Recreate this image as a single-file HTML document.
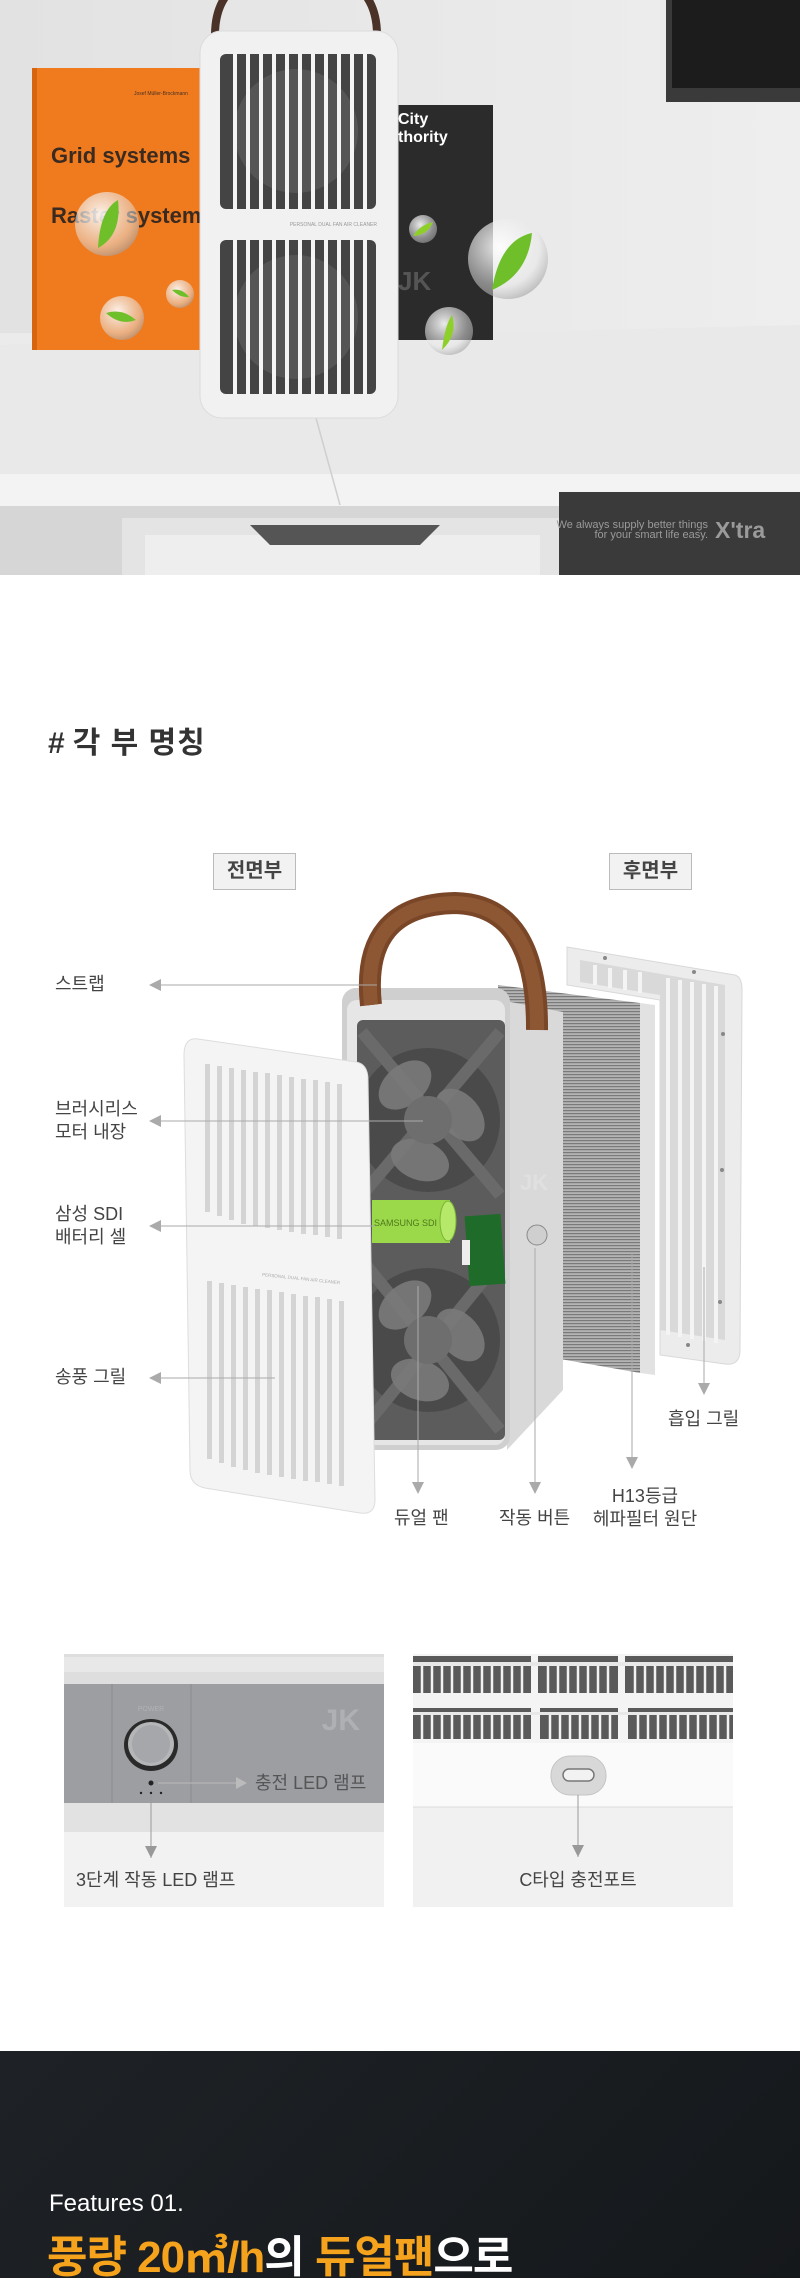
<!DOCTYPE html>
<html><head><meta charset="utf-8">
<style>
*{margin:0;padding:0;box-sizing:border-box}
body{width:800px;height:2278px;position:relative;background:#fff;overflow:hidden;font-family:"Liberation Sans","Noto Sans CJK KR",sans-serif}
.a{position:absolute;white-space:nowrap}
.lb{font-size:18px;color:#444;line-height:23px}
</style></head><body>

<!-- HERO -->
<svg class="a" style="left:0;top:0" width="800" height="575" viewBox="0 0 800 575">
<defs>
<linearGradient id="wall" x1="0" y1="0" x2="1" y2="0"><stop offset="0" stop-color="#e2e2e2"/><stop offset="1" stop-color="#eeeeee"/></linearGradient>
<radialGradient id="bub" cx="0.4" cy="0.35" r="0.7"><stop offset="0" stop-color="#ffffff" stop-opacity="0.9"/><stop offset="0.7" stop-color="#e8e8e8" stop-opacity="0.5"/><stop offset="1" stop-color="#999" stop-opacity="0.6"/></radialGradient>
</defs>
<rect width="800" height="575" fill="url(#wall)"/>
<rect x="0" y="333" width="800" height="145" fill="#ebebeb"/>
<polygon points="0,345 800,325 800,478 0,478" fill="#e9e9e9"/>
<rect x="0" y="474" width="800" height="34" fill="#f3f3f3"/>
<line x1="316" y1="418" x2="340" y2="505" stroke="#cfcfcf" stroke-width="1.5"/>
<rect x="0" y="506" width="800" height="69" fill="#d6d6d6"/>
<rect x="122" y="518" width="437" height="57" fill="#e4e4e4"/>
<rect x="145" y="535" width="395" height="40" fill="#eeeeee"/>
<path d="M250 525 L440 525 L420 545 L270 545 Z" fill="#555"/>
<rect x="559" y="492" width="241" height="83" fill="#3a3a3a"/>
<text x="708" y="528" text-anchor="end" font-size="11" fill="#9a9a9a" font-family="Liberation Sans Narrow, Liberation Sans, sans-serif">We always supply better things</text>
<text x="708" y="538" text-anchor="end" font-size="11" fill="#9a9a9a" font-family="Liberation Sans Narrow, Liberation Sans, sans-serif">for your smart life easy.</text>
<text x="715" y="538" font-size="23" font-weight="bold" fill="#9a9a9a">X'tra</text>
<!-- monitor -->
<rect x="666" y="0" width="134" height="102" fill="#3a3a3a"/>
<rect x="672" y="0" width="128" height="88" fill="#1c1c1c"/>
<!-- orange book -->
<rect x="32" y="68" width="180" height="282" fill="#f07b1f"/>
<rect x="32" y="68" width="5" height="282" fill="#d76510"/>
<text x="51" y="163" font-size="22" font-weight="bold" fill="#3a2a20">Grid systems</text>
<text x="51" y="223" font-size="22" font-weight="bold" fill="#3a2a20">Raster systems</text>
<text x="134" y="95" font-size="5" fill="#4a3020">Josef Müller-Brockmann</text>
<!-- dark book -->
<rect x="390" y="105" width="103" height="235" fill="#2b2b2b"/>
<text x="398" y="124" font-size="16" font-weight="bold" fill="#fff">City</text>
<text x="398" y="142" font-size="16" font-weight="bold" fill="#fff">thority</text>
<text x="398" y="290" font-size="26" font-weight="bold" fill="#555">JK</text>
<!-- device -->
<path d="M215 35 Q215 -30 296 -30 Q377 -30 377 35" fill="none" stroke="#4a3228" stroke-width="8"/>
<rect x="200" y="31" width="198" height="387" rx="22" fill="#f1f1f1" stroke="#dcdcdc"/>
<rect x="220" y="54" width="156" height="155" rx="6" fill="#444"/>
<rect x="220" y="240" width="156" height="154" rx="6" fill="#444"/>
<circle cx="296" cy="131" r="62" fill="#555"/><circle cx="296" cy="317" r="62" fill="#555"/>
<g fill="#f4f4f4">
<rect x="233" y="54" width="4" height="155"/><rect x="246" y="54" width="4" height="155"/><rect x="259" y="54" width="4" height="155"/><rect x="272" y="54" width="4" height="155"/><rect x="285" y="54" width="4" height="155"/><rect x="298" y="54" width="4" height="155"/><rect x="311" y="54" width="4" height="155"/><rect x="324" y="54" width="4" height="155"/><rect x="337" y="54" width="4" height="155"/><rect x="350" y="54" width="4" height="155"/><rect x="363" y="54" width="4" height="155"/>
<rect x="233" y="240" width="4" height="154"/><rect x="246" y="240" width="4" height="154"/><rect x="259" y="240" width="4" height="154"/><rect x="272" y="240" width="4" height="154"/><rect x="285" y="240" width="4" height="154"/><rect x="298" y="240" width="4" height="154"/><rect x="311" y="240" width="4" height="154"/><rect x="324" y="240" width="4" height="154"/><rect x="337" y="240" width="4" height="154"/><rect x="350" y="240" width="4" height="154"/><rect x="363" y="240" width="4" height="154"/>
</g>
<text x="377" y="226" text-anchor="end" font-size="5" fill="#999">PERSONAL DUAL FAN AIR CLEANER</text>
<!-- bubbles -->
<g>
<circle cx="508" cy="259" r="40" fill="url(#bub)"/><path d="M492 290 Q500 240 532 233 Q528 275 492 290Z" fill="#6fbf2a"/>
<circle cx="449" cy="331" r="24" fill="url(#bub)"/><path d="M442 350 Q445 325 452 315 Q458 335 442 350Z" fill="#8fcf2a"/>
<circle cx="423" cy="229" r="14" fill="url(#bub)"/><path d="M413 236 Q420 225 433 222 Q428 235 413 236Z" fill="#8fcf2a"/>
<circle cx="107" cy="224" r="32" fill="url(#bub)"/><path d="M98 248 Q100 210 118 200 Q122 235 98 248Z" fill="#6fbf2a"/>
<circle cx="122" cy="318" r="22" fill="url(#bub)"/><path d="M106 313 Q122 308 136 320 Q120 326 106 313Z" fill="#6fbf2a"/>
<circle cx="180" cy="294" r="14" fill="url(#bub)"/><path d="M172 290 Q182 288 189 297 Q180 298 172 290Z" fill="#6fbf2a"/>
</g>
</svg>

<!-- TITLE -->
<div class="a" style="left:48px;top:718px;font-size:30px;font-weight:bold;color:#333;letter-spacing:1px">#&thinsp;각 부 명칭</div>
<div class="a" style="left:213px;top:853px;width:83px;height:37px;background:#f2f2f2;border:1px solid #bbb;font-size:20px;font-weight:bold;color:#444;text-align:center;line-height:35px">전면부</div>
<div class="a" style="left:609px;top:853px;width:83px;height:37px;background:#f2f2f2;border:1px solid #bbb;font-size:20px;font-weight:bold;color:#444;text-align:center;line-height:35px">후면부</div>

<!-- DIAGRAM -->
<svg class="a" style="left:0;top:880px" width="800" height="660" viewBox="0 880 800 660">
<defs>
<pattern id="flt" width="4" height="3" patternUnits="userSpaceOnUse"><rect width="4" height="3" fill="#b4b4b4"/><rect width="4" height="1.2" fill="#7a7a7a"/></pattern>
</defs>
<!-- rear grill -->
<path d="M567 947 L735 975 Q742 977 742 990 L740 1350 Q740 1366 725 1364 L660 1355 L660 1000 L567 985 Z" fill="#ececec" stroke="#d8d8d8"/>
<path d="M580 960 L725 985 L725 1340 L660 1330 L660 995 L580 982Z" fill="#d9d9d9"/>
<g stroke="#f4f4f4" stroke-width="4">
<line x1="595" y1="965" x2="595" y2="985"/><line x1="610" y1="968" x2="610" y2="988"/><line x1="625" y1="970" x2="625" y2="990"/><line x1="640" y1="972" x2="640" y2="993"/>
<line x1="668" y1="978" x2="668" y2="1335"/><line x1="680" y1="980" x2="680" y2="1337"/><line x1="692" y1="982" x2="692" y2="1339"/><line x1="704" y1="984" x2="704" y2="1341"/><line x1="716" y1="986" x2="716" y2="1343"/>
</g>
<g fill="#888"><circle cx="605" cy="958" r="2"/><circle cx="694" cy="972" r="2"/><circle cx="723" cy="1034" r="2"/><circle cx="722" cy="1170" r="2"/><circle cx="720" cy="1302" r="2"/><circle cx="688" cy="1345" r="2"/></g>
<!-- filter -->
<polygon points="498,985 640,1003 640,1373 566,1360 498,1350" fill="url(#flt)"/>
<polygon points="640,1003 655,1005 655,1375 640,1373" fill="#e2e2e2"/>
<!-- body -->
<polygon points="500,1000 563,1012 563,1390 507,1450" fill="#d9d9d9"/>
<rect x="342" y="988" width="168" height="462" rx="14" fill="#cfcfcf"/>
<rect x="347" y="1000" width="158" height="445" rx="10" fill="#e6e6e6"/>
<rect x="357" y="1020" width="148" height="420" rx="6" fill="#5c5c5c"/>
<!-- fans -->
<g>
<circle cx="428" cy="1120" r="72" fill="#4a4a4a"/>
<circle cx="428" cy="1340" r="72" fill="#4a4a4a"/>
<g stroke="#6a6a6a" stroke-width="12" fill="none">
<line x1="362" y1="1032" x2="500" y2="1195"/><line x1="500" y1="1032" x2="362" y2="1195"/>
<line x1="362" y1="1260" x2="500" y2="1430"/><line x1="500" y1="1260" x2="362" y2="1430"/>
</g>
<g fill="#7a7a7a" opacity="0.9">
<ellipse cx="405" cy="1085" rx="30" ry="20" transform="rotate(-40 405 1085)"/><ellipse cx="460" cy="1115" rx="30" ry="20" transform="rotate(50 460 1115)"/><ellipse cx="420" cy="1160" rx="30" ry="20" transform="rotate(20 420 1160)"/>
<ellipse cx="405" cy="1305" rx="30" ry="20" transform="rotate(-40 405 1305)"/><ellipse cx="460" cy="1335" rx="30" ry="20" transform="rotate(50 460 1335)"/><ellipse cx="420" cy="1380" rx="30" ry="20" transform="rotate(20 420 1380)"/>
</g>
<circle cx="428" cy="1120" r="24" fill="#6e6e6e"/><circle cx="428" cy="1340" r="24" fill="#6e6e6e"/>
</g>
<!-- battery & pcb -->
<rect x="372" y="1200" width="78" height="43" fill="#9bd84a"/>
<ellipse cx="448" cy="1221" rx="8" ry="20" fill="#b6e86a" stroke="#7bb436"/>
<text x="374" y="1226" font-size="9" fill="#4e7a1c">SAMSUNG SDI</text>
<rect x="467" y="1215" width="36" height="70" fill="#1f6b2a" transform="rotate(-4 485 1250)"/>
<rect x="462" y="1240" width="8" height="25" fill="#eee"/>
<!-- button -->
<circle cx="537" cy="1235" r="10" fill="#cfcfcf" stroke="#8a8a8a"/>
<text x="520" y="1190" font-size="22" font-weight="bold" fill="#e0e0e0">JK</text>
<!-- strap -->
<path d="M371 1005 Q360 905 455 903 Q538 905 537 1030" fill="none" stroke="#7a4628" stroke-width="22"/>
<path d="M371 1005 Q360 905 455 903 Q538 905 537 1030" fill="none" stroke="#8d5733" stroke-width="14"/>
<!-- front grill -->
<path d="M198 1039 L356 1062 Q368 1064 368 1080 L375 1500 Q375 1515 360 1513 L205 1488 Q190 1485 190 1470 L184 1055 Q184 1037 198 1039Z" fill="#f4f4f4" stroke="#dddddd"/>
<g fill="#d4d4d4">
<rect x="205" y="1064" width="5" height="148"/><rect x="217" y="1066" width="5" height="150"/><rect x="229" y="1068" width="5" height="152"/><rect x="241" y="1070" width="5" height="154"/><rect x="253" y="1072" width="5" height="154"/><rect x="265" y="1073" width="5" height="155"/><rect x="277" y="1075" width="5" height="155"/><rect x="289" y="1077" width="5" height="155"/><rect x="301" y="1079" width="5" height="155"/><rect x="313" y="1080" width="5" height="155"/><rect x="325" y="1082" width="5" height="155"/><rect x="337" y="1084" width="5" height="155"/>
<rect x="207" y="1281" width="5" height="178"/><rect x="219" y="1283" width="5" height="180"/><rect x="231" y="1285" width="5" height="182"/><rect x="243" y="1287" width="5" height="183"/><rect x="255" y="1289" width="5" height="184"/><rect x="267" y="1290" width="5" height="185"/><rect x="279" y="1292" width="5" height="185"/><rect x="291" y="1294" width="5" height="185"/><rect x="303" y="1296" width="5" height="185"/><rect x="315" y="1297" width="5" height="185"/><rect x="327" y="1299" width="5" height="185"/><rect x="339" y="1301" width="5" height="185"/>
</g>
<text x="262" y="1276" font-size="4.5" fill="#aaa" transform="rotate(6 262 1276)">PERSONAL DUAL FAN AIR CLEANER</text>
<!-- connectors -->
<g stroke="#aaa" stroke-width="1" fill="none">
<line x1="160" y1="985" x2="377" y2="985"/>
<line x1="160" y1="1121" x2="423" y2="1121"/>
<line x1="160" y1="1226" x2="375" y2="1226"/>
<line x1="160" y1="1378" x2="275" y2="1378"/>
<line x1="418" y1="1286" x2="418" y2="1484"/>
<line x1="535" y1="1248" x2="535" y2="1484"/>
<line x1="632" y1="1253" x2="632" y2="1459"/>
<line x1="704" y1="1267" x2="704" y2="1385"/>
</g>
<g fill="#aaa">
<polygon points="149,985 161,979 161,991"/><polygon points="149,1121 161,1115 161,1127"/><polygon points="149,1226 161,1220 161,1232"/><polygon points="149,1378 161,1372 161,1384"/>
<polygon points="418,1494 412,1482 424,1482"/><polygon points="535,1494 529,1482 541,1482"/><polygon points="632,1469 626,1457 638,1457"/><polygon points="704,1395 698,1383 710,1383"/>
</g>
</svg>

<div class="a lb" style="left:55px;top:973px">스트랩</div>
<div class="a lb" style="left:55px;top:1098px">브러시리스<br>모터 내장</div>
<div class="a lb" style="left:55px;top:1203px">삼성 SDI<br>배터리 셀</div>
<div class="a lb" style="left:55px;top:1366px">송풍 그릴</div>
<div class="a lb" style="left:394px;top:1507px">듀얼 팬</div>
<div class="a lb" style="left:499px;top:1507px">작동 버튼</div>
<div class="a lb" style="left:592px;top:1485px;text-align:center;width:106px">H13등급<br>헤파필터 원단</div>
<div class="a lb" style="left:668px;top:1408px">흡입 그릴</div>

<!-- BOTTOM PANELS -->
<svg class="a" style="left:0;top:1650px" width="800" height="260" viewBox="0 1650 800 260">
<rect x="64" y="1654" width="320" height="253" fill="#f2f2f2"/>
<rect x="64" y="1654" width="320" height="30" fill="#dedede"/>
<rect x="64" y="1657" width="320" height="15" fill="#e8e8e8"/>
<rect x="64" y="1684" width="320" height="119" fill="#9c9ea2"/>
<rect x="64" y="1803" width="320" height="29" fill="#e2e2e2"/>
<line x1="112" y1="1684" x2="112" y2="1803" stroke="#8a8c90"/>
<line x1="191" y1="1684" x2="191" y2="1803" stroke="#8a8c90"/>
<text x="151" y="1711" text-anchor="middle" font-size="7" fill="#b0b2b6">POWER</text>
<ellipse cx="151" cy="1745" rx="27" ry="26" fill="#2a2a2a"/>
<ellipse cx="151" cy="1744" rx="23" ry="22" fill="#b5b6b8"/>
<ellipse cx="151" cy="1744" rx="19" ry="19" fill="#a6a7aa"/>
<text x="360" y="1730" text-anchor="end" font-size="30" font-weight="bold" fill="#aeb0b4">JK</text>
<circle cx="151" cy="1783" r="2.5" fill="#222"/>
<circle cx="141" cy="1793" r="1.2" fill="#222"/><circle cx="151" cy="1793" r="1.2" fill="#222"/><circle cx="161" cy="1793" r="1.2" fill="#222"/>
<line x1="158" y1="1783" x2="236" y2="1783" stroke="#bbb"/>
<polygon points="247,1783 236,1777 236,1789" fill="#bbb"/>
<line x1="151" y1="1795" x2="151" y2="1858" stroke="#999"/>
<polygon points="151,1858 145,1846 157,1846" fill="#999"/>

<rect x="413" y="1654" width="320" height="253" fill="#f1f1f1"/>
<rect x="413" y="1654" width="320" height="153" fill="#fafafa"/>
<rect x="413" y="1654" width="320" height="89" fill="#f4f4f4"/>
<g fill="#5a5a5a">
<rect x="413" y="1656" width="118" height="37"/><rect x="538" y="1656" width="80" height="37"/><rect x="625" y="1656" width="108" height="37"/>
<rect x="413" y="1708" width="118" height="31"/><rect x="540" y="1708" width="78" height="31"/><rect x="628" y="1708" width="105" height="31"/>
</g>
<g fill="#e8e8e8">
<rect x="413" y="1662" width="320" height="4"/><rect x="413" y="1712" width="320" height="3"/>
</g>
<g stroke="#f2f2f2" stroke-width="2.5">
<line x1="422" y1="1666" x2="422" y2="1693"/><line x1="432" y1="1666" x2="432" y2="1693"/><line x1="442" y1="1666" x2="442" y2="1693"/><line x1="452" y1="1666" x2="452" y2="1693"/><line x1="462" y1="1666" x2="462" y2="1693"/><line x1="472" y1="1666" x2="472" y2="1693"/><line x1="482" y1="1666" x2="482" y2="1693"/><line x1="492" y1="1666" x2="492" y2="1693"/><line x1="502" y1="1666" x2="502" y2="1693"/><line x1="512" y1="1666" x2="512" y2="1693"/><line x1="522" y1="1666" x2="522" y2="1693"/><line x1="548" y1="1666" x2="548" y2="1693"/><line x1="558" y1="1666" x2="558" y2="1693"/><line x1="568" y1="1666" x2="568" y2="1693"/><line x1="578" y1="1666" x2="578" y2="1693"/><line x1="588" y1="1666" x2="588" y2="1693"/><line x1="598" y1="1666" x2="598" y2="1693"/><line x1="608" y1="1666" x2="608" y2="1693"/><line x1="635" y1="1666" x2="635" y2="1693"/><line x1="645" y1="1666" x2="645" y2="1693"/><line x1="655" y1="1666" x2="655" y2="1693"/><line x1="665" y1="1666" x2="665" y2="1693"/><line x1="675" y1="1666" x2="675" y2="1693"/><line x1="685" y1="1666" x2="685" y2="1693"/><line x1="695" y1="1666" x2="695" y2="1693"/><line x1="705" y1="1666" x2="705" y2="1693"/><line x1="715" y1="1666" x2="715" y2="1693"/><line x1="725" y1="1666" x2="725" y2="1693"/>
<line x1="422" y1="1715" x2="422" y2="1739"/><line x1="432" y1="1715" x2="432" y2="1739"/><line x1="442" y1="1715" x2="442" y2="1739"/><line x1="452" y1="1715" x2="452" y2="1739"/><line x1="462" y1="1715" x2="462" y2="1739"/><line x1="472" y1="1715" x2="472" y2="1739"/><line x1="482" y1="1715" x2="482" y2="1739"/><line x1="492" y1="1715" x2="492" y2="1739"/><line x1="502" y1="1715" x2="502" y2="1739"/><line x1="512" y1="1715" x2="512" y2="1739"/><line x1="522" y1="1715" x2="522" y2="1739"/><line x1="550" y1="1715" x2="550" y2="1739"/><line x1="560" y1="1715" x2="560" y2="1739"/><line x1="570" y1="1715" x2="570" y2="1739"/><line x1="580" y1="1715" x2="580" y2="1739"/><line x1="590" y1="1715" x2="590" y2="1739"/><line x1="600" y1="1715" x2="600" y2="1739"/><line x1="610" y1="1715" x2="610" y2="1739"/><line x1="638" y1="1715" x2="638" y2="1739"/><line x1="648" y1="1715" x2="648" y2="1739"/><line x1="658" y1="1715" x2="658" y2="1739"/><line x1="668" y1="1715" x2="668" y2="1739"/><line x1="678" y1="1715" x2="678" y2="1739"/><line x1="688" y1="1715" x2="688" y2="1739"/><line x1="698" y1="1715" x2="698" y2="1739"/><line x1="708" y1="1715" x2="708" y2="1739"/><line x1="718" y1="1715" x2="718" y2="1739"/><line x1="728" y1="1715" x2="728" y2="1739"/>
</g>
<line x1="413" y1="1807" x2="733" y2="1807" stroke="#dcdcdc"/>
<rect x="551" y="1756" width="55" height="39" rx="19" fill="#d8d8d8" stroke="#c4c4c4"/>
<rect x="563" y="1769" width="31" height="12" rx="6" fill="#f2f2f2" stroke="#777" stroke-width="1.5"/>
<line x1="578" y1="1795" x2="578" y2="1857" stroke="#999"/>
<polygon points="578,1857 572,1845 584,1845" fill="#999"/>
</svg>
<div class="a lb" style="left:255px;top:1772px;color:#555">충전 LED 램프</div>
<div class="a lb" style="left:76px;top:1869px;color:#444">3단계 작동 LED 램프</div>
<div class="a lb" style="left:518px;top:1869px;width:120px;text-align:center;color:#444">C타입 충전포트</div>

<!-- DARK SECTION -->
<div class="a" style="left:0;top:2051px;width:800px;height:227px;background:linear-gradient(135deg,#1e2226,#15181b)"></div>
<div class="a" style="left:49px;top:2189px;font-size:24px;color:#fff;line-height:30px">Features 01.</div>
<div class="a" style="left:47px;top:2230px;font-size:44px;font-weight:bold;line-height:56px;color:#fff;letter-spacing:-1px"><span style="color:#f5a31c">풍량 20㎥/h</span>의 <span style="color:#f5a31c">듀얼팬</span>으로</div>
</body></html>
